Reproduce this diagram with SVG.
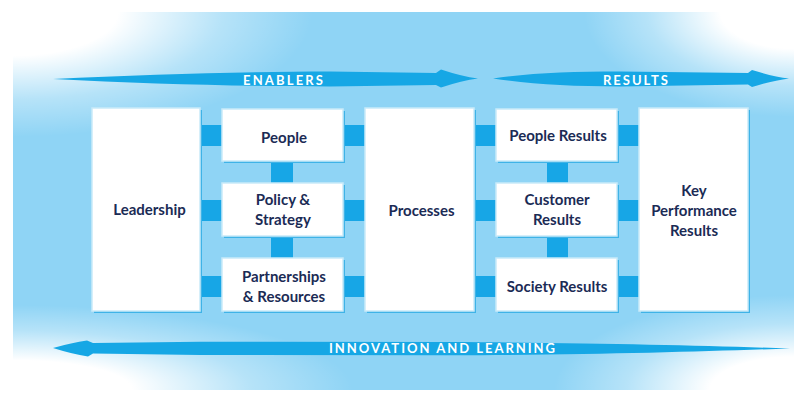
<svg xmlns="http://www.w3.org/2000/svg" width="794" height="394" viewBox="0 0 794 394">
<style>
.box{fill:#ffffff;stroke:#c9eaf9;stroke-width:1.5}
.shadow{fill:#3fb3e7}
.conn{fill:#17a6e6}
.arrow{fill:#16a7e5}
.lbl{font-family:Lato,"Open Sans","DejaVu Sans",sans-serif;font-weight:bold;font-size:15px;fill:#1b2b55;text-anchor:middle}
.hdr{font-family:Lato,"Open Sans","DejaVu Sans",sans-serif;font-weight:bold;font-size:13px;fill:#ffffff;text-anchor:middle}
</style>
<defs>
<radialGradient id="fade" cx="0.5" cy="0.5" r="0.5">
<stop offset="0" stop-color="#ffffff" stop-opacity="1"/>
<stop offset="0.35" stop-color="#ffffff" stop-opacity="1"/>
<stop offset="0.7" stop-color="#ffffff" stop-opacity="0.35"/>
<stop offset="1" stop-color="#ffffff" stop-opacity="0"/>
</radialGradient>
<clipPath id="bgclip"><rect x="13" y="12" width="781" height="378"/></clipPath>
</defs>
<rect width="794" height="394" fill="#ffffff"/>
<g id="background" clip-path="url(#bgclip)">
<rect x="13" y="12" width="781" height="378" fill="#8fd4f5"/>
<ellipse cx="13" cy="12" rx="300" ry="125" fill="url(#fade)"/>
<ellipse cx="794" cy="12" rx="210" ry="105" fill="url(#fade)"/>
<ellipse cx="13" cy="390" rx="340" ry="85" fill="url(#fade)"/>
<ellipse cx="794" cy="390" rx="240" ry="95" fill="url(#fade)"/>
</g>
<g id="arrows">
<path class="arrow" d="M53,79 C150,74.5 250,71.5 330,71.5 L436,73 L441,69.5 Q462,76.5 478,78.5 Q462,80.5 441,87.5 L436,85 L330,86.5 C250,86.5 150,84 53,79 Z"/>
<path class="arrow" d="M493,78.5 C530,73 570,71.5 620,71.5 L748,73 L752,70 Q773,76.5 789,78.5 Q773,80.5 752,87 L748,84.5 L620,86.5 C570,86.5 530,84 493,78.5 Z"/>
<path class="arrow" d="M53,348 Q72,342.5 87,340.5 L93,343 L200,341.8 L450,342 C600,343 700,345.5 790,348.5 C700,351.5 600,355 450,355.2 L200,355 L93,353.5 L88,356.5 Q72,354 53,348 Z"/>
<text class="hdr" x="283" y="85" textLength="80" lengthAdjust="spacing">ENABLERS</text>
<text class="hdr" x="635.5" y="85" textLength="65" lengthAdjust="spacing">RESULTS</text>
<text class="hdr" x="442" y="353" textLength="226" lengthAdjust="spacing">INNOVATION AND LEARNING</text>
</g>
<g id="connectors">
<rect class="conn" x="201" y="125" width="21" height="21"/>
<rect class="conn" x="201" y="200" width="21" height="21"/>
<rect class="conn" x="201" y="276" width="21" height="21"/>
<rect class="conn" x="344" y="125" width="21" height="21"/>
<rect class="conn" x="344" y="200" width="21" height="21"/>
<rect class="conn" x="344" y="276" width="21" height="21"/>
<rect class="conn" x="271" y="162" width="22" height="21"/>
<rect class="conn" x="271" y="237" width="22" height="21"/>
<rect class="conn" x="475" y="125" width="21" height="21"/>
<rect class="conn" x="475" y="200" width="21" height="21"/>
<rect class="conn" x="475" y="276" width="21" height="21"/>
<rect class="conn" x="618" y="125" width="21" height="21"/>
<rect class="conn" x="618" y="200" width="21" height="21"/>
<rect class="conn" x="618" y="276" width="21" height="21"/>
<rect class="conn" x="547" y="162" width="21" height="21"/>
<rect class="conn" x="547" y="237" width="21" height="21"/>
</g>
<g id="leadership">
<rect class="shadow" x="94" y="110" width="108" height="203"/>
<rect class="box" x="92" y="108" width="108" height="203"/>
<text class="lbl" x="149.5" y="215">Leadership</text>
</g>
<g id="people">
<rect class="shadow" x="224" y="111" width="121" height="52"/>
<rect class="box" x="222" y="109" width="121" height="52"/>
<text class="lbl" x="284" y="143">People</text>
</g>
<g id="policy-strategy">
<rect class="shadow" x="224" y="185" width="121" height="53"/>
<rect class="box" x="222" y="183" width="121" height="53"/>
<text class="lbl" x="283" y="205">Policy &amp;</text>
<text class="lbl" x="283" y="225">Strategy</text>
</g>
<g id="partnerships-resources">
<rect class="shadow" x="224" y="260" width="121" height="53"/>
<rect class="box" x="222" y="258" width="121" height="53"/>
<text class="lbl" x="284" y="282">Partnerships</text>
<text class="lbl" x="284" y="302">&amp; Resources</text>
</g>
<g id="processes">
<rect class="shadow" x="367" y="110" width="109" height="203"/>
<rect class="box" x="365" y="108" width="109" height="203"/>
<text class="lbl" x="421.5" y="216">Processes</text>
</g>
<g id="people-results">
<rect class="shadow" x="498" y="111" width="121" height="52"/>
<rect class="box" x="496" y="109" width="121" height="52"/>
<text class="lbl" x="558" y="141">People Results</text>
</g>
<g id="customer-results">
<rect class="shadow" x="498" y="185" width="121" height="53"/>
<rect class="box" x="496" y="183" width="121" height="53"/>
<text class="lbl" x="557" y="205">Customer</text>
<text class="lbl" x="557" y="225">Results</text>
</g>
<g id="society-results">
<rect class="shadow" x="498" y="260" width="121" height="53"/>
<rect class="box" x="496" y="258" width="121" height="53"/>
<text class="lbl" x="557" y="292">Society Results</text>
</g>
<g id="key-performance-results">
<rect class="shadow" x="641" y="110" width="109" height="203"/>
<rect class="box" x="639" y="108" width="109" height="203"/>
<text class="lbl" x="694" y="196">Key</text>
<text class="lbl" x="694" y="216">Performance</text>
<text class="lbl" x="694" y="236">Results</text>
</g>
</svg>
